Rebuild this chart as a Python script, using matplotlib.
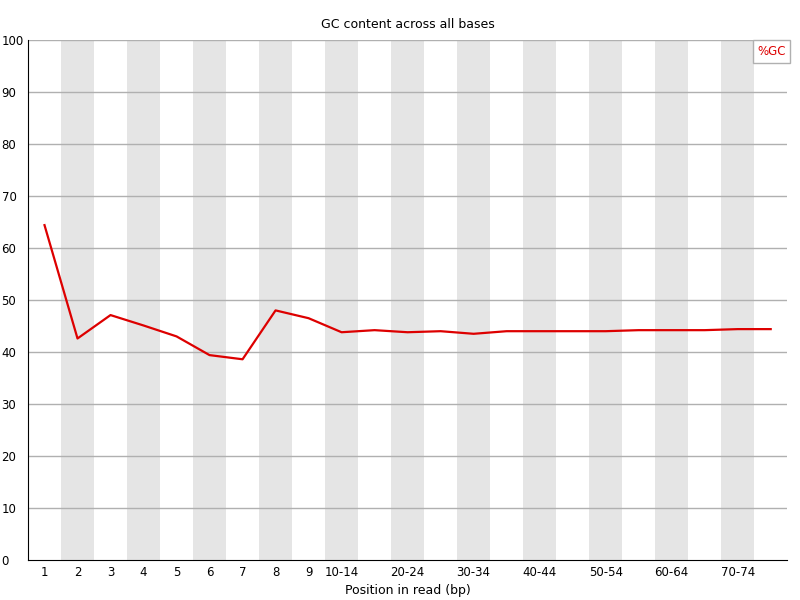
import matplotlib
matplotlib.use('Agg')
from matplotlib import pyplot as plt
from matplotlib.patches import Rectangle
import numpy as np

# Positions in read (FastQC style grouping)
categories = ['1', '2', '3', '4', '5', '6', '7', '8', '9',
              '10-14', '15-19', '20-24', '25-29', '30-34', '35-39',
              '40-44', '45-49', '50-54', '55-59', '60-64', '65-69',
              '70-74', '75-76']
gc_percent = [64.4, 42.6, 47.1, 45.1, 43.0, 39.4, 38.6, 48.0, 46.5,
              43.8, 44.2, 43.8, 44.0, 43.5, 44.0,
              44.0, 44.0, 44.0, 44.2, 44.2, 44.2,
              44.4, 44.4]
y_ticks = [0, 10, 20, 30, 40, 50, 60, 70, 80, 90, 100]


def shown_label(i, name):
    '''
        Only every other grouped label is displayed
    '''
    if i < 9 or (i - 9) % 2 == 0 and i < len(categories) - 1:
        return name
    return ''


def main():
    fig = plt.figure(figsize=(8, 6), dpi=100)
    ax = fig.add_axes([0.035, 0.0667, 0.949, 0.8666])

    x = np.arange(len(categories))

    # alternating background stripes
    for i in x:
        if i % 2 == 1:
            ax.axvspan(i - 0.5, i + 0.5, color='#e5e5e5', lw=0, zorder=0)

    for t in y_ticks[1:]:
        ax.axhline(t, color='#b0b0b0', lw=1, zorder=1)

    ax.plot(x, gc_percent, color='#dd0000', lw=1.6, zorder=3)

    ax.set_xlim(-0.5, len(categories) - 0.5)
    ax.set_ylim(0, 100)
    ax.set_xticks(x)
    ax.set_xticklabels([shown_label(i, c) for i, c in enumerate(categories)])
    ax.set_yticks(y_ticks)
    ax.tick_params(axis='both', length=0, labelsize=8.5)
    ax.tick_params(axis='x', pad=4)
    ax.tick_params(axis='y', pad=19)
    for lab in ax.get_yticklabels():
        lab.set_horizontalalignment('left')

    for side in ['top', 'right']:
        ax.spines[side].set_visible(False)
    ax.spines['left'].set_color('black')
    ax.spines['bottom'].set_color('black')

    ax.set_title('GC content across all bases', fontsize=9, pad=9)
    ax.set_xlabel('Position in read (bp)', fontsize=9, labelpad=4)

    # legend box in the top right corner
    ax.add_patch(Rectangle((0.955, 0.956), 0.049, 0.044, transform=ax.transAxes,
                           facecolor='white', edgecolor='#b0b0b0', lw=1,
                           zorder=5, clip_on=False))
    ax.text(0.9795, 0.977, '%GC', transform=ax.transAxes, ha='center', va='center',
            color='#dd0000', fontsize=8.5, zorder=6)

    fig.savefig('out.png', dpi=100)


if __name__ == "__main__":
    main()
